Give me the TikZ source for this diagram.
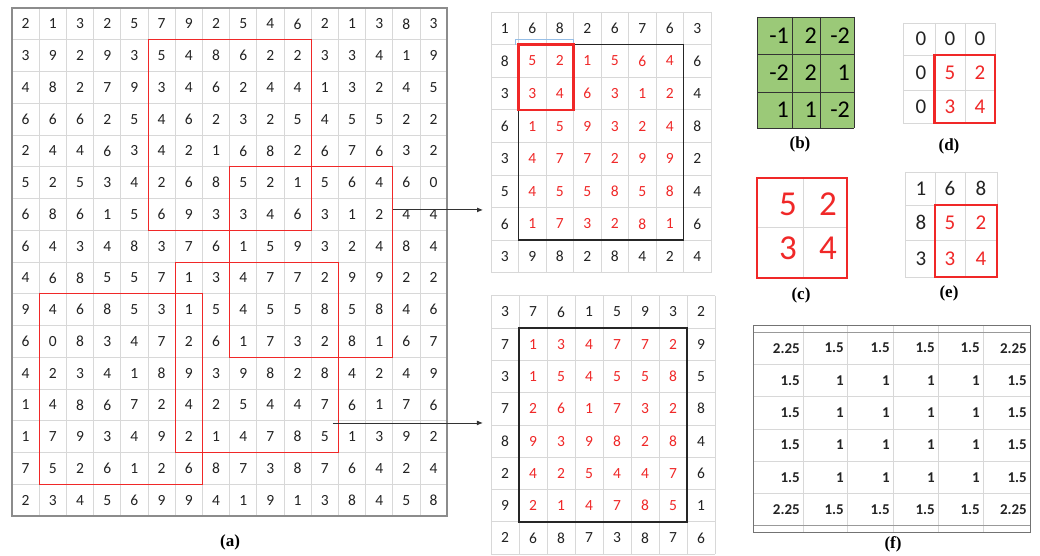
\documentclass[tikz,border=0pt]{standalone}
\usepackage{fontspec}
\setmainfont{Carlito}
\newfontfamily\labfont{Liberation Serif}
\usetikzlibrary{arrows.meta}
\definecolor{myred}{RGB}{240,40,40}
\definecolor{gline}{RGB}{216,216,216}
\definecolor{kgreen}{RGB}{155,201,120}
\definecolor{ntext}{RGB}{35,35,35}
\definecolor{selblue}{RGB}{150,190,230}
\begin{document}
\begin{tikzpicture}[x=1pt,y=-1pt,
  gl/.style={draw=gline, line width=0.8pt},
  num/.style={inner sep=0pt, text=ntext, font=\fontsize{15.5}{16}\selectfont},
  rnum/.style={num, text=myred},
  bnum/.style={inner sep=0pt, text=black, font=\fontsize{24}{24}\selectfont},
  dnum/.style={inner sep=0pt, text=ntext, font=\fontsize{21}{21}\selectfont},
  drnum/.style={dnum, text=myred},
  cnum/.style={inner sep=0pt, text=myred, font=\fontsize{35}{35}\selectfont},
  fnum/.style={inner sep=0pt, text=ntext, font=\fontsize{15}{15}\selectfont\bfseries},
  rbox/.style={draw=myred, line width=1pt},
  tbox/.style={draw=myred, line width=2.5pt},
  kbox/.style={draw=black!85, line width=1.8pt},
  bline/.style={draw=black!80, line width=0.9pt},
  lab/.style={font=\labfont\bfseries\fontsize{17}{17}\selectfont, inner sep=0pt},
  arr/.style={draw=black!80, line width=0.9pt, -{Latex[length=6pt,width=5pt]}}
]
\useasboundingbox (0,0) rectangle (1040,556);
\fill[white] (0,0) rectangle (1040,556);

% ---------- (a) ----------
\begin{scope}[shift={(12,8)}, x=27.2pt, y=-31.75pt]
  \foreach \i in {0,...,16} {
    \draw[gl] (\i,0) -- (\i,16);
    \draw[gl] (0,\i) -- (16,\i);
  }
  \draw[draw=black!45, line width=1.5pt] (0,0) rectangle (16,16);
  \foreach \row [count=\r from 0] in {
    {2,1,3,2,5,7,9,2,5,4,6,2,1,3,8,3},
    {3,9,2,9,3,5,4,8,6,2,2,3,3,4,1,9},
    {4,8,2,7,9,3,4,6,2,4,4,1,3,2,4,5},
    {6,6,6,2,5,4,6,2,3,2,5,4,5,5,2,2},
    {2,4,4,6,3,4,2,1,6,8,2,6,7,6,3,2},
    {5,2,5,3,4,2,6,8,5,2,1,5,6,4,6,0},
    {6,8,6,1,5,6,9,3,3,4,6,3,1,2,4,4},
    {6,4,3,4,8,3,7,6,1,5,9,3,2,4,8,4},
    {4,6,8,5,5,7,1,3,4,7,7,2,9,9,2,2},
    {9,4,6,8,5,3,1,5,4,5,5,8,5,8,4,6},
    {6,0,8,3,4,7,2,6,1,7,3,2,8,1,6,7},
    {4,2,3,4,1,8,9,3,9,8,2,8,4,2,4,9},
    {1,4,8,6,7,2,4,2,5,4,4,7,6,1,7,6},
    {1,7,9,3,4,9,2,1,4,7,8,5,1,3,9,2},
    {7,5,2,6,1,2,6,8,7,3,8,7,6,4,2,4},
    {2,3,4,5,6,9,9,4,1,9,1,3,8,4,5,8}} {
    \foreach \v [count=\c from 0] in \row {
      \node[num] (a-\r-\c) at (\c+0.5,\r+0.5) {\v};
    }
  }
  \draw[rbox] (5,1) rectangle (11,7);
  \draw[rbox] (8,5) rectangle (14,11);
  \draw[rbox] (6,8) rectangle (12,14);
  \draw[rbox] (1,9) rectangle (7,15);
  \coordinate (s1) at (14,6.36);
  \coordinate (s2) at (11.8,13.07);
\end{scope}
\node[lab] (la) at (230,542) {(a)};

% ---------- top middle grid ----------
\begin{scope}[shift={(491,12)}, x=27.5pt, y=-32.6pt]
  \foreach \i in {0,...,8} {
    \draw[gl] (\i,0) -- (\i,8);
    \draw[gl] (0,\i) -- (8,\i);
  }
  \foreach \row [count=\r from 0] in {
    {1,6,8,2,6,7,6,3},
    {8,5,2,1,5,6,4,6},
    {3,3,4,6,3,1,2,4},
    {6,1,5,9,3,2,4,8},
    {3,4,7,7,2,9,9,2},
    {5,4,5,5,8,5,8,4},
    {6,1,7,3,2,8,1,6},
    {3,9,8,2,8,4,2,4}} {
    \foreach \v [count=\c from 0] in \row {
      \pgfmathtruncatemacro\ins{and(and(\r>0,\r<7),and(\c>0,\c<7))}
      \ifnum\ins=1 \def\st{rnum}\else\def\st{num}\fi
      \node[\st] (t-\r-\c) at (\c+0.5,\r+0.5) {\v};
    }
  }
  \draw[draw=selblue, line width=0.8pt] (0.9,1) -- (0.9,0.84) -- (3,0.84) -- (3,1);
  \draw[kbox] (1,1) rectangle (7,7);
  \draw[tbox] (1,1) rectangle (3,3);
  \coordinate (t1) at (-0.29,6.07);
\end{scope}

% ---------- bottom middle grid ----------
\begin{scope}[shift={(491,295.7)}, x=28pt, y=-32.3pt]
  \foreach \i in {0,...,8} {
    \draw[gl] (\i,0) -- (\i,8);
    \draw[gl] (0,\i) -- (8,\i);
  }
  \foreach \row [count=\r from 0] in {
    {3,7,6,1,5,9,3,2},
    {7,1,3,4,7,7,2,9},
    {3,1,5,4,5,5,8,5},
    {7,2,6,1,7,3,2,8},
    {8,9,3,9,8,2,8,4},
    {2,4,2,5,4,4,7,6},
    {9,2,1,4,7,8,5,1},
    {2,6,8,7,3,8,7,6}} {
    \foreach \v [count=\c from 0] in \row {
      \pgfmathtruncatemacro\ins{and(and(\r>0,\r<7),and(\c>0,\c<7))}
      \ifnum\ins=1 \def\st{rnum}\else\def\st{num}\fi
      \node[\st] (u-\r-\c) at (\c+0.5,\r+0.5) {\v};
    }
  }
  \draw[kbox] (1,1) rectangle (7,7);
  \coordinate (t2) at (-0.29,3.97);
\end{scope}

\draw[arr] (s1) -- (s1 -| t1);
\draw[arr] (s2) -- (s2 -| t2);

% ---------- (b) ----------
\fill[kgreen] (757,17) rectangle (854,128);
\foreach \x in {757,792,820,854} \draw[bline] (\x,17) -- (\x,128);
\foreach \y in {17,54,92,128} \draw[bline] (757,\y) -- (854,\y);
\node[bnum, anchor=east] (b00) at (789,35.5) {-1};
\node[bnum, anchor=east] (b01) at (817,35.5) {2};
\node[bnum, anchor=east] (b02) at (850,35.5) {-2};
\node[bnum, anchor=east] (b10) at (789,73) {-2};
\node[bnum, anchor=east] (b11) at (817,73) {2};
\node[bnum, anchor=east] (b12) at (850,73) {1};
\node[bnum, anchor=east] (b20) at (789,110) {1};
\node[bnum, anchor=east] (b21) at (817,110) {1};
\node[bnum, anchor=east] (b22) at (850,110) {-2};
\node[lab] (lb) at (800,144) {(b)};

% ---------- (d) ----------
\foreach \x in {903,935,965,995} \draw[gl] (\x,23) -- (\x,123);
\foreach \y in {23,55,90,123} \draw[gl] (903,\y) -- (995,\y);
\node[dnum] (d00) at (921,39) {0};
\node[dnum] (d01) at (950,39) {0};
\node[dnum] (d02) at (980,39) {0};
\node[dnum] (d10) at (921,72.5) {0};
\node[drnum] (d11) at (950,72.5) {5};
\node[drnum] (d12) at (980,72.5) {2};
\node[dnum] (d20) at (921,106.5) {0};
\node[drnum] (d21) at (950,106.5) {3};
\node[drnum] (d22) at (980,106.5) {4};
\draw[tbox] (934.5,55) rectangle (995,123);
\node[lab] (ld) at (949,146) {(d)};

% ---------- (c) ----------
\draw[gl] (803,178) -- (803,278);
\draw[gl] (757,227) -- (847,227);
\node[cnum] (c00) at (788,204) {5};
\node[cnum] (c01) at (828,204) {2};
\node[cnum] (c10) at (788,248) {3};
\node[cnum] (c11) at (828,248) {4};
\draw[tbox] (757,178) rectangle (847,278);
\node[lab] (lc) at (801,295) {(c)};

% ---------- (e) ----------
\foreach \x in {905,935,965,997} \draw[gl] (\x,172) -- (\x,277);
\foreach \y in {172,205,240,277} \draw[gl] (905,\y) -- (997,\y);
\node[dnum] (e00) at (921,188.5) {1};
\node[dnum] (e01) at (950,188.5) {6};
\node[dnum] (e02) at (981,188.5) {8};
\node[dnum] (e10) at (921,222.5) {8};
\node[drnum] (e11) at (950,222.5) {5};
\node[drnum] (e12) at (981,222.5) {2};
\node[dnum] (e20) at (921,258.5) {3};
\node[drnum] (e21) at (950,258.5) {3};
\node[drnum] (e22) at (981,258.5) {4};
\draw[tbox] (935,205) rectangle (997,277);
\node[lab] (le) at (949,293) {(e)};

% ---------- (f) ----------
\foreach \x in {803,847,893,938,983} \draw[gl] (\x,325) -- (\x,532);
\foreach \k in {1,...,5} \draw[gl] (753,{332+\k*32.3}) -- (1030,{332+\k*32.3});
\draw[draw=black!40, line width=0.8pt] (753,332) -- (1030,332);
\draw[draw=black!40, line width=0.8pt] (753,525.8) -- (1030,525.8);
\draw[draw=black!55, line width=1pt] (753,325) rectangle (1030,532);
\foreach \row [count=\r from 0] in {
  {2.25,1.5,1.5,1.5,1.5,2.25},
  {1.5,1,1,1,1,1.5},
  {1.5,1,1,1,1,1.5},
  {1.5,1,1,1,1,1.5},
  {1.5,1,1,1,1,1.5},
  {2.25,1.5,1.5,1.5,1.5,2.25}} {
  \foreach \v [count=\c from 0] in \row {
    \pgfmathsetmacro\xr{{803,847,893,938,983,1030}[\c]-3}
    \node[fnum, anchor=east] (f-\r-\c) at (\xr,{332+(\r+0.5)*32.3}) {\v};
  }
}
\node[lab] (lf) at (893,544) {(f)};
\end{tikzpicture}
\end{document}
